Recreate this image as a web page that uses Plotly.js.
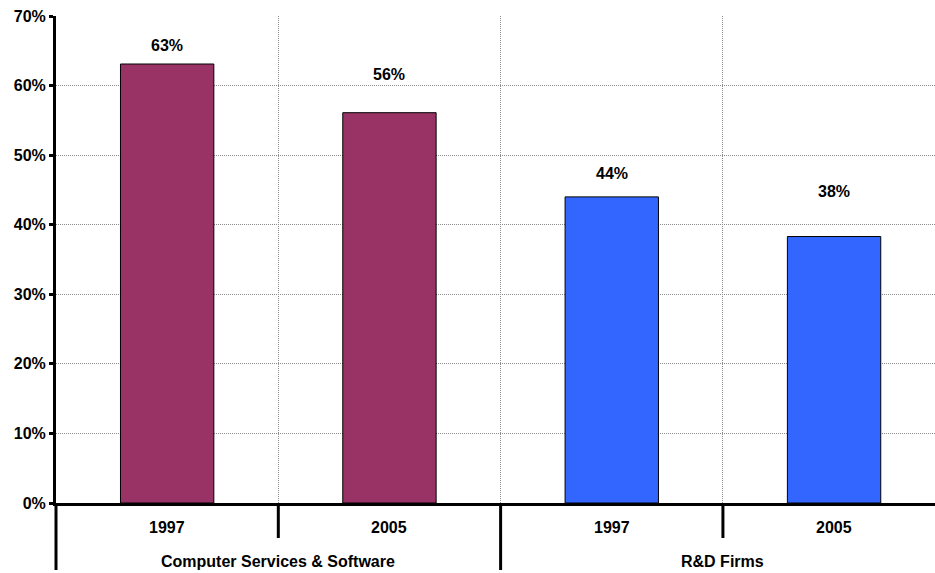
<!DOCTYPE html>
<html>
<head>
<meta charset="utf-8">
<script src="https://cdn.plot.ly/plotly-3.0.1.min.js"></script>
<style>html,body{margin:0;padding:0;background:#fff;}#chart{width:935px;height:573px;}</style>
</head>
<body>
<div id="chart"></div>
<script>
// Data
const groups = ["Computer Services & Software", "R&D Firms"];
const years = ["1997", "2005", "1997", "2005"];
const values = [63.1, 56.1, 44.0, 38.3];
const valueLabels = ["63%", "56%", "44%", "38%"];
const barColors = ["#993366", "#993366", "#3366FF", "#3366FF"];
// label vertical placement (in axis units) as in the original
const labelY = [65.8, 61.6, 47.3, 44.8];

const xs = values.map((v, i) => i);
const font = {family: "Liberation Sans, Arial, sans-serif", size: 16, color: "#000"};

const trace = {
  type: "bar",
  x: xs,
  y: values,
  width: 0.42,
  marker: {color: barColors, line: {color: "#000", width: 1}},
  hoverinfo: "skip"
};

const annotations = [];
values.forEach((v, i) => {
  annotations.push({x: i, y: labelY[i], xref: "x", yref: "y", text: "<b>" + valueLabels[i] + "</b>",
    showarrow: false, font: font, yanchor: "middle"});
  annotations.push({x: i, y: 0, xref: "x", yref: "paper", text: "<b>" + years[i] + "</b>",
    showarrow: false, font: font, yanchor: "middle", yshift: -24});
});
groups.forEach((g, gi) => {
  annotations.push({x: gi * 2 + 0.5, y: 0, xref: "x", yref: "paper", text: "<b>" + g.replace("&", "&amp;") + "</b>",
    showarrow: false, font: font, yanchor: "middle", yshift: -58});
});

const plotH = 573 - 16 - 70;
const shortD = -35 / plotH, longD = -67 / plotH;
const shapes = [
  {type: "line", xref: "paper", yref: "paper", x0: 0, x1: 0, y0: 0, y1: longD, line: {color: "#000", width: 3}},
  {type: "line", xref: "x", yref: "paper", x0: 0.5, x1: 0.5, y0: 0, y1: shortD, line: {color: "#000", width: 3}},
  {type: "line", xref: "x", yref: "paper", x0: 1.5, x1: 1.5, y0: 0, y1: longD, line: {color: "#000", width: 3}},
  {type: "line", xref: "x", yref: "paper", x0: 2.5, x1: 2.5, y0: 0, y1: shortD, line: {color: "#000", width: 3}}
];

const layout = {
  width: 935, height: 573,
  margin: {l: 56, r: 0, t: 16, b: 70},
  paper_bgcolor: "#fff", plot_bgcolor: "#fff",
  showlegend: false,
  bargap: 0,
  xaxis: {
    range: [-0.5, 3.454],
    tickmode: "array", tickvals: [0.5, 1.5, 2.5], showticklabels: false,
    ticks: "", showgrid: true, gridcolor: "#8c8c8c", griddash: "1px,1px", gridwidth: 1,
    showline: true, linecolor: "#000", linewidth: 3, zeroline: false, fixedrange: true
  },
  yaxis: {
    range: [0, 70], dtick: 10, tick0: 0, ticksuffix: "%",
    tickfont: {family: font.family, size: 16, color: "#000", weight: "bold"},
    ticks: "outside", ticklen: 4, tickwidth: 3, tickcolor: "#000",
    showgrid: true, gridcolor: "#8c8c8c", griddash: "1px,1px", gridwidth: 1,
    showline: true, linecolor: "#000", linewidth: 3, zeroline: false, fixedrange: true
  },
  annotations: annotations,
  shapes: shapes
};

Plotly.newPlot("chart", [trace], layout, {displayModeBar: false, staticPlot: true});
</script>
</body>
</html>
